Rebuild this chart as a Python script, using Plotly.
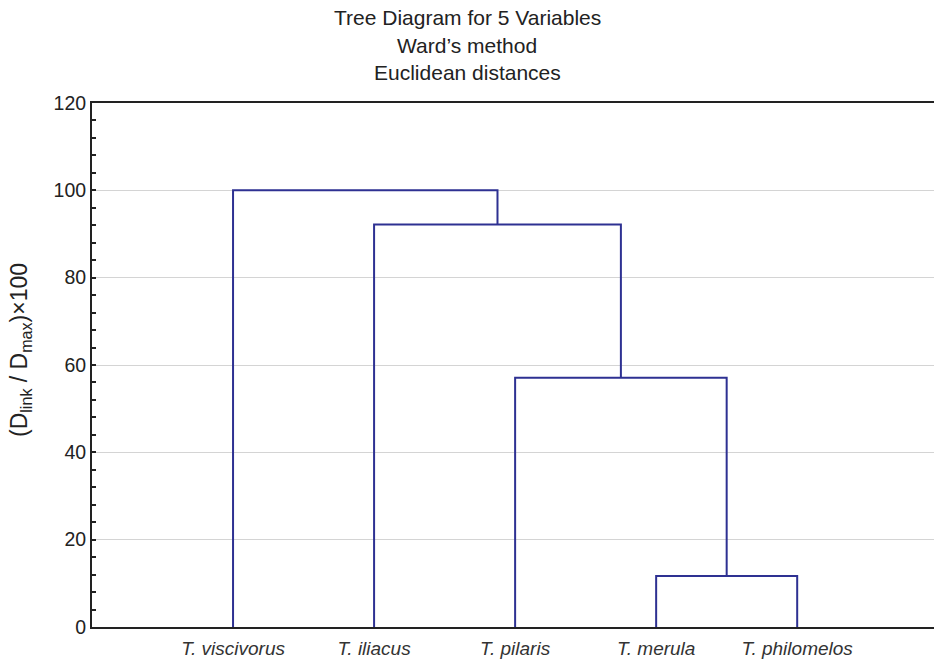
import plotly.graph_objects as go

# Leaves in dendrogram order
leaves = ["T. viscivorus", "T. iliacus", "T. pilaris", "T. merula", "T. philomelos"]
# Merge steps: (left member, right member, linkage distance as (Dlink/Dmax)*100)
merge_left = ["T. merula", "T. pilaris", "T. iliacus", "T. viscivorus"]
merge_right = ["T. philomelos", "C1", "C2", "C3"]
merge_height = [11.7, 57.1, 92.2, 100.0]
merge_names = ["C1", "C2", "C3", "C4"]

y_ticks = [0, 20, 40, 60, 80, 100, 120]

# positions of nodes
pos = {name: i + 1 for i, name in enumerate(leaves)}
hgt = {name: 0.0 for name in leaves}

xs, ys = [], []
for a, b, h, n in zip(merge_left, merge_right, merge_height, merge_names):
    xa, xb = pos[a], pos[b]
    xs += [xa, xa, xb, xb, None]
    ys += [hgt[a], h, h, hgt[b], None]
    pos[n] = (xa + xb) / 2
    hgt[n] = h

fig = go.Figure()
fig.add_trace(go.Scatter(
    x=xs, y=ys, mode="lines",
    line=dict(color="#2e3192", width=2),
    hoverinfo="skip", showlegend=False,
))

font_family = "Liberation Sans, Arial, sans-serif"
fig.update_layout(
    width=934, height=659,
    margin=dict(l=92, r=0, t=103, b=32),
    paper_bgcolor="white", plot_bgcolor="white",
    font=dict(family=font_family, color="#222222"),
    xaxis=dict(
        range=[0, 5.97],
        tickvals=list(range(1, len(leaves) + 1)),
        ticktext=["<i>" + s + "</i>" for s in leaves],
        tickfont=dict(size=19, color="#333333"),
        ticklabelstandoff=3,
        showgrid=False, zeroline=False,
        showline=True, linecolor="#222222", linewidth=2,
        mirror=True, ticks="", ticklen=0,
    ),
    yaxis=dict(
        range=[0, 120],
        tickvals=y_ticks,
        tickfont=dict(size=19.5, color="#222222"),
        showgrid=True, gridcolor="#d4d4d4", gridwidth=1,
        zeroline=False,
        showline=True, linecolor="#222222", linewidth=2,
        ticks="inside", ticklen=4, tickwidth=1.5, tickcolor="#222222",
        minor=dict(dtick=4, ticks="inside", ticklen=4, tickwidth=1.5,
                   tickcolor="#222222", showgrid=False),
    ),
)

# y-axis title
fig.add_annotation(
    text="(D<sub>link</sub> / D<sub>max</sub>)\u00d7100",
    xref="paper", yref="paper",
    x=(20 - 92) / 842, y=(627 - 350) / 524,
    xanchor="center", yanchor="middle", textangle=-90, showarrow=False,
    font=dict(size=23, color="#222222", family=font_family),
)

titles = ["Tree Diagram for 5 Variables", "Ward\u2019s method", "Euclidean distances"]
for t, py in zip(titles, [18, 45, 72]):
    fig.add_annotation(
        text=t, xref="paper", yref="paper",
        x=(467 - 92) / 842, y=(627 - py) / 524,
        xanchor="center", yanchor="middle", showarrow=False,
        font=dict(size=21, color="#222222", family=font_family),
    )

fig.write_html("out.html", config={"displayModeBar": False},
               post_script="document.body.style.margin='0';")
